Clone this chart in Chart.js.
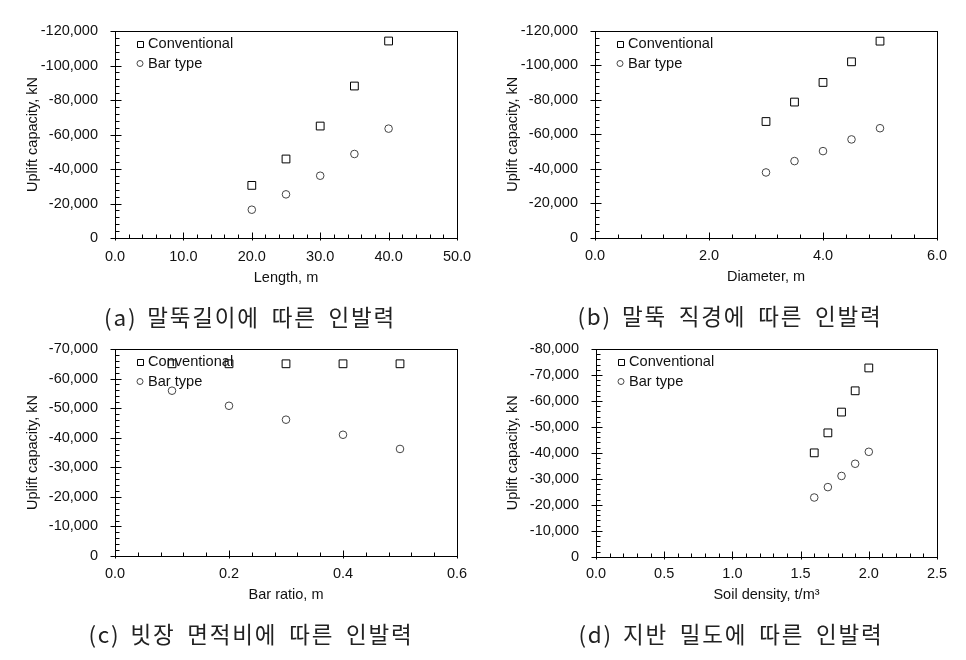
<!DOCTYPE html>
<html>
<head>
  <meta charset="UTF-8">
  <title>Uplift capacity</title>
  <script src="https://cdn.jsdelivr.net/npm/chart.js"></script>
  <style>
    body { margin: 0; background: #fff; }
    #wrap { position: relative; width: 966px; height: 660px; }
    canvas { position: absolute; }
    .cap {
      position: absolute;
      width: 400px;
      line-height: 30px;
      text-align: center;
      font-family: "Noto Sans CJK KR", sans-serif;
      font-size: 22.5px;
      letter-spacing: 1.8px;
      word-spacing: 5px;
      color: #222;
      white-space: pre;
    }
    .cap span { margin-right: 10px; }
  </style>
</head>
<body>
  <div id="wrap">
    <canvas id="ca" width="480" height="300" style="left:0;top:0"></canvas>
    <canvas id="cb" width="480" height="300" style="left:480px;top:0"></canvas>
    <canvas id="cc" width="480" height="300" style="left:0;top:320px"></canvas>
    <canvas id="cd" width="480" height="300" style="left:480px;top:320px"></canvas>
    <div class="cap" style="left:50px;top:301px"><span>(a)</span>말뚝길이에 따른 인발력</div>
    <div class="cap" style="left:530px;top:300px"><span>(b)</span>말뚝 직경에 따른 인발력</div>
    <div class="cap" style="left:51px;top:618px"><span>(c)</span>빗장 면적비에 따른 인발력</div>
    <div class="cap" style="left:531px;top:618px"><span>(d)</span>지반 밀도에 따른 인발력</div>
  </div>
  <script>
    // values (kN, negative = uplift)
    const seriesNames = ["Conventional", "Bar type"];

    const lengthX = [20, 25, 30, 35, 40];
    const lengthConv = [-30500, -45800, -64900, -88100, -114200];
    const lengthBar = [-16400, -25300, -36100, -48700, -63400];

    const diamX = [3.0, 3.5, 4.0, 4.5, 5.0];
    const diamConv = [-67400, -78700, -90100, -102100, -114100];
    const diamBar = [-37800, -44400, -50200, -57000, -63500];

    const ratioX = [0.1, 0.2, 0.3, 0.4, 0.5];
    const ratioConv = [-65000, -65000, -65000, -65000, -65000];
    const ratioBar = [-55900, -50800, -46100, -41000, -36200];

    const densX = [1.6, 1.7, 1.8, 1.9, 2.0];
    const densConv = [-40000, -47700, -55700, -63900, -72700];
    const densBar = [-22800, -26800, -31100, -35800, -40400];

    const FONT = "Arial, 'Liberation Sans', sans-serif";
    const INK = '#111';

    // frame, inward ticks and the in-plot legend
    const framePlugin = {
      id: 'frame',
      afterDatasetsDraw(chart, args, opts) {
        const { ctx, chartArea: a, scales } = chart;
        const L = Math.round(a.left) + 0.5, R = Math.round(a.right) + 0.5;
        const T = Math.round(a.top) + 0.5, B = Math.round(a.bottom) + 0.5;
        ctx.save();
        ctx.strokeStyle = '#000';
        ctx.lineWidth = 1;
        ctx.strokeRect(L, T, R - L, B - T);

        ctx.beginPath();
        const xs = scales.x, ys = scales.y;
        let n = Math.round((xs.max - xs.min) / opts.xMinor);
        for (let i = 0; i <= n; i++) {
          const v = xs.min + i * opts.xMinor;
          const r = (v - xs.min) / opts.xMajor;
          const major = Math.abs(r - Math.round(r)) < 1e-6;
          const px = Math.round(xs.getPixelForValue(v)) + 0.5;
          ctx.moveTo(px, B + (major ? 2 : 0));
          ctx.lineTo(px, B - (major ? 6 : 4));
        }
        n = Math.round((ys.max - ys.min) / opts.yMinor);
        for (let i = 0; i <= n; i++) {
          const v = ys.min + i * opts.yMinor;
          const r = (v - ys.min) / opts.yMajor;
          const major = Math.abs(r - Math.round(r)) < 1e-6;
          const py = Math.round(ys.getPixelForValue(v)) + 0.5;
          ctx.moveTo(L - (major ? 5 : 0), py);
          ctx.lineTo(L + (major ? 6 : 4), py);
        }
        ctx.stroke();

        // legend
        ctx.font = '14.6px ' + FONT;
        ctx.textBaseline = 'middle';
        ctx.fillStyle = INK;
        chart.data.datasets.forEach((ds, i) => {
          const cy = a.top + 13 + i * 19.5;
          const cx = a.left + 25;
          ctx.strokeStyle = ds.borderColor;
          ctx.beginPath();
          if (ds.pointStyle === 'rect') {
            ctx.rect(Math.round(cx - 3) + 0.5, Math.round(cy - 3) + 0.5, 6, 6);
          } else {
            ctx.arc(cx, cy, 3, 0, Math.PI * 2);
          }
          ctx.stroke();
          ctx.fillText(ds.label, a.left + 33, cy);
        });
        ctx.restore();
      }
    };

    function makeChart(id, p) {
      const datasets = [
        { label: seriesNames[0], data: p.x.map((x, i) => ({ x: x, y: p.conv[i] })),
          pointStyle: 'rect', pointRadius: 5.5, borderColor: '#000', backgroundColor: '#fff', borderWidth: 1 },
        { label: seriesNames[1], data: p.x.map((x, i) => ({ x: x, y: p.bar[i] })),
          pointStyle: 'circle', pointRadius: 3.8, borderColor: '#444', backgroundColor: '#fff', borderWidth: 1 }
      ];
      return new Chart(document.getElementById(id), {
        type: 'scatter',
        data: { datasets },
        plugins: [framePlugin],
        options: {
          responsive: false,
          animation: false,
          events: [],
          layout: { padding: { left: 0, right: p.padR, top: p.padT, bottom: 0 } },
          plugins: {
            legend: { display: false },
            tooltip: { enabled: false },
            frame: { xMajor: p.xStep, xMinor: p.xMinor, yMajor: p.yStep, yMinor: p.yMinor }
          },
          scales: {
            x: {
              type: 'linear', min: 0, max: p.xMax,
              grid: { display: false }, border: { display: false },
              ticks: { stepSize: p.xStep, padding: p.xTickPad, color: INK, font: { family: FONT, size: 14.5 },
                       callback: v => Number(v).toFixed(1) },
              title: { display: true, text: p.xTitle, color: INK, font: { family: FONT, size: 14.5 },
                       padding: { top: 0, bottom: p.xTitlePad } },
              afterFit: s => { s.height = p.xH; }
            },
            y: {
              type: 'linear', min: p.yMin, max: 0, reverse: true,
              grid: { display: false }, border: { display: false },
              ticks: { stepSize: p.yStep, padding: 9, color: INK, font: { family: FONT, size: 14.5 },
                       callback: v => Number(v).toLocaleString('en-US') },
              title: { display: true, text: 'Uplift capacity, kN', color: INK, font: { family: FONT, size: 14.5 },
                       padding: { top: 24, bottom: 0 } },
              afterFit: s => { s.width = p.yW; }
            }
          }
        }
      });
    }

    makeChart('ca', { x: lengthX, conv: lengthConv, bar: lengthBar, xMax: 50, xStep: 10, xMinor: 2,
      yMin: -120000, yStep: 20000, yMinor: 4000, xTitle: 'Length, m',
      yW: 115, padR: 23, padT: 31, xH: 62, xTitlePad: 13.6, xTickPad: 2 });
    makeChart('cb', { x: diamX, conv: diamConv, bar: diamBar, xMax: 6, xStep: 2, xMinor: 0.4,
      yMin: -120000, yStep: 20000, yMinor: 4000, xTitle: 'Diameter, m',
      yW: 115, padR: 23, padT: 31, xH: 62.5, xTitlePad: 14.6, xTickPad: 2 });
    makeChart('cc', { x: ratioX, conv: ratioConv, bar: ratioBar, xMax: 0.6, xStep: 0.2, xMinor: 0.04,
      yMin: -70000, yStep: 10000, yMinor: 2000, xTitle: 'Bar ratio, m',
      yW: 115, padR: 23, padT: 29, xH: 64, xTitlePad: 16.3, xTickPad: 1 });
    makeChart('cd', { x: densX, conv: densConv, bar: densBar, xMax: 2.5, xStep: 0.5, xMinor: 0.1,
      yMin: -80000, yStep: 10000, yMinor: 2000, xTitle: 'Soil density, t/m\u00b3',
      yW: 116, padR: 23, padT: 29, xH: 63.3, xTitlePad: 16.3, xTickPad: 1 });
  </script>
</body>
</html>
